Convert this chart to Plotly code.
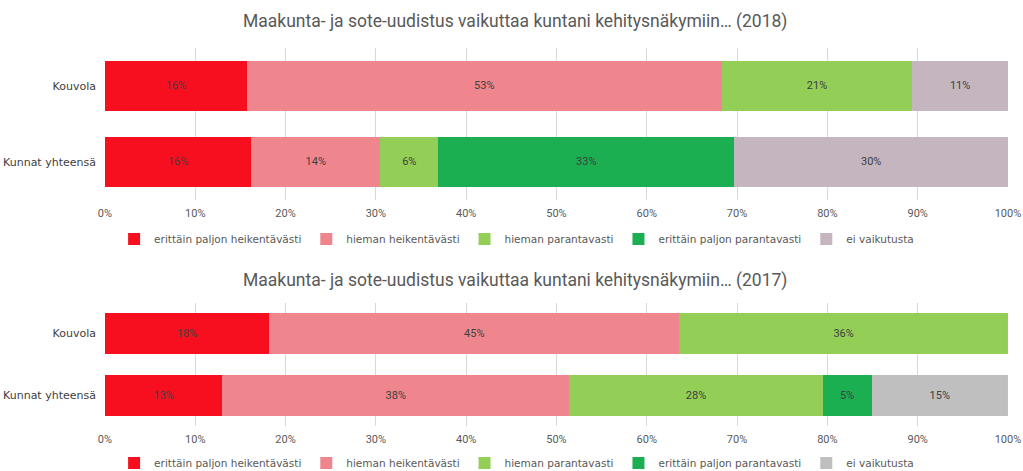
import plotly.graph_objects as go
from plotly.subplots import make_subplots

categories = ["Kouvola", "Kunnat yhteensä"]
series_names = ["erittäin paljon heikentävästi", "hieman heikentävästi", "hieman parantavasti",
                "erittäin paljon parantavasti", "ei vaikutusta"]
colors_2018 = ["#F80F1F", "#EF868D", "#93CE56", "#1CAF52", "#C4B5BF"]
colors_2017 = ["#F80F1F", "#EF868D", "#93CE56", "#1CAF52", "#BFBFBF"]

# values in percent, per series: [Kouvola, Kunnat yhteensä]
values_2018 = [
    [15.7, 16.2],
    [52.6, 14.3],
    [21.1, 6.4],
    [None, 32.8],
    [10.6, 30.3],
]
values_2017 = [
    [18.2, 13.0],
    [45.4, 38.4],
    [36.4, 28.1],
    [None, 5.4],
    [None, 15.1],
]
x_ticks = [0, 10, 20, 30, 40, 50, 60, 70, 80, 90, 100]
x_tick_labels = ["0%", "10%", "20%", "30%", "40%", "50%", "60%", "70%", "80%", "90%", "100%"]
titles = ["Maakunta- ja sote-uudistus vaikuttaa kuntani kehitysnäkymiin… (2018)",
          "Maakunta- ja sote-uudistus vaikuttaa kuntani kehitysnäkymiin… (2017)"]

narrow = "Roboto, Liberation Sans, sans-serif"
wide = "DejaVu Sans, Verdana, sans-serif"

fig = make_subplots(rows=2, cols=1)

for i, name in enumerate(series_names):
    fig.add_trace(go.Bar(
        y=categories, x=values_2018[i], name=name, orientation="h",
        marker=dict(color=colors_2018[i], line=dict(width=0)),
        texttemplate="%{x:.0f}%", textposition="inside", insidetextanchor="middle",
        textfont=dict(family=narrow, size=11, color="#404040"),
        legend="legend", xaxis="x", yaxis="y",
    ))
for i, name in enumerate(series_names):
    fig.add_trace(go.Bar(
        y=categories, x=values_2017[i], name=name, orientation="h",
        marker=dict(color=colors_2017[i], line=dict(width=0)),
        texttemplate="%{x:.0f}%", textposition="inside", insidetextanchor="middle",
        textfont=dict(family=narrow, size=11, color="#404040"),
        legend="legend2", xaxis="x2", yaxis="y2",
    ))

xcommon = dict(range=[0, 100], tickmode="array", tickvals=x_ticks, ticktext=x_tick_labels,
               showgrid=True, gridcolor="#D9D9D9", gridwidth=1, zeroline=False, showline=False,
               tickfont=dict(family=narrow, size=11, color="#595959"), fixedrange=True,
               automargin=False, ticklabelstandoff=5)
ycommon = dict(type="category", categoryarray=categories, range=[1.5, -0.5],
               showgrid=False, zeroline=False, showline=False, ticks="",
               tickfont=dict(family=wide, size=11, color="#404040"), ticklabelstandoff=8,
               automargin=False)

fig.update_layout(
    width=1023, height=471,
    margin=dict(l=0, r=0, t=0, b=0, autoexpand=False),
    paper_bgcolor="white", plot_bgcolor="white",
    barmode="stack", bargap=0.34,
    showlegend=True,
    xaxis=dict(domain=[0.1026, 0.9853], anchor="y", **xcommon),
    yaxis=dict(domain=[0.5754, 0.8981], anchor="x", **ycommon),
    xaxis2=dict(domain=[0.1026, 0.9853], anchor="y2", **xcommon),
    yaxis2=dict(domain=[0.0945, 0.3577], anchor="x2", **ycommon),
    legend=dict(orientation="h", x=0.505, y=1 - 239 / 471, xanchor="center", yanchor="middle",
                font=dict(family=wide, size=10.5, color="#595959"), itemwidth=30,
                bgcolor="rgba(0,0,0,0)", traceorder="normal"),
    legend2=dict(orientation="h", x=0.505, y=1 - 463 / 471, xanchor="center", yanchor="middle",
                 font=dict(family=wide, size=10.5, color="#595959"), itemwidth=30,
                 bgcolor="rgba(0,0,0,0)", traceorder="normal"),
    annotations=[
        dict(text=titles[0], x=0.503, y=1 - 22 / 471, xref="paper", yref="paper",
             showarrow=False, xanchor="center", yanchor="middle",
             font=dict(family=narrow, size=17.5, color="#595959")),
        dict(text=titles[1], x=0.503, y=1 - 280 / 471, xref="paper", yref="paper",
             showarrow=False, xanchor="center", yanchor="middle",
             font=dict(family=narrow, size=17.5, color="#595959")),
    ],
)

fig.write_html("out.html", config={"displayModeBar": False},
               post_script="document.body.style.margin='0';document.body.style.overflow='hidden';")
